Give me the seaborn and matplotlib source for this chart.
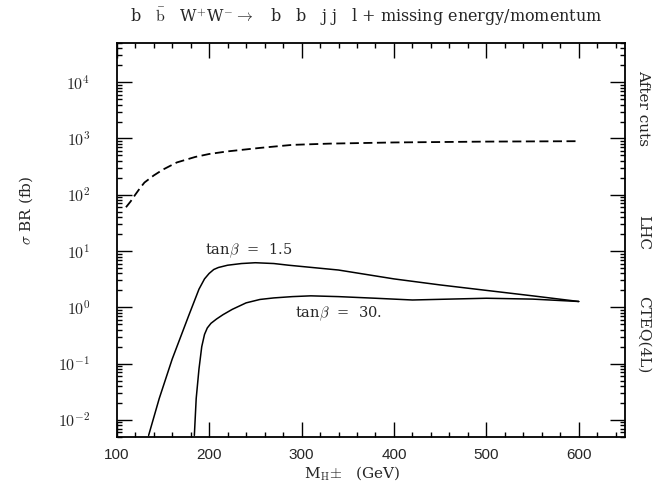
import numpy as np
import pandas as pd
import matplotlib
matplotlib.use("Agg")
import matplotlib.pyplot as plt
import seaborn as sns
from matplotlib.ticker import MultipleLocator, LogLocator, FixedFormatter, NullFormatter

# data
mass_cuts = [110, 115, 120, 125, 130, 140, 150, 165, 185, 200, 220, 255, 290, 330, 400, 500, 600]
sigma_cuts = [60, 76, 100, 130, 165, 220, 280, 375, 470, 530, 590, 680, 770, 810, 850, 880, 895]

mass_tb15 = [134.5, 146, 160, 178, 189, 195, 200, 205, 210, 220, 235, 250, 270, 286, 340, 400, 450, 500, 550, 600]
sigma_tb15 = [0.0053, 0.024, 0.12, 0.72, 2.1, 3.2, 4.0, 4.7, 5.1, 5.6, 6.0, 6.2, 6.0, 5.6, 4.6, 3.2, 2.5, 2.0, 1.6, 1.27]

mass_tb30 = [184, 186, 189, 192, 195, 198, 202, 208, 215, 225, 240, 255, 270, 290, 310, 340, 380, 420, 460, 500, 550, 600]
sigma_tb30 = [0.0053, 0.024, 0.08, 0.2, 0.33, 0.43, 0.52, 0.62, 0.74, 0.92, 1.2, 1.38, 1.47, 1.55, 1.6, 1.55, 1.45, 1.35, 1.4, 1.45, 1.4, 1.27]

ytick_vals = [1e-2, 1e-1, 1e0, 1e1, 1e2, 1e3, 1e4]
ytick_labels = [r"$10^{-2}$", r"$10^{-1}$", r"$10^{0}$", r"$10^{1}$", r"$10^{2}$", r"$10^{3}$", r"$10^{4}$"]
side_labels = ["After cuts", "LHC", "CTEQ(4L)"]

sns.set_style("ticks")
plt.rcParams['font.family'] = ['DejaVu Serif']
plt.rcParams['mathtext.fontset'] = 'cm'

fig = plt.figure(figsize=(6.67, 4.87), dpi=100)
ax = fig.add_axes([0.175, 0.103, 0.762, 0.809])

sns.lineplot(x=mass_cuts, y=sigma_cuts, ax=ax, color='black', linewidth=1.3,
             linestyle=(0, (5, 2.5)), sort=False)
sns.lineplot(x=mass_tb15, y=sigma_tb15, ax=ax, color='black', linewidth=1.1, sort=False)
sns.lineplot(x=mass_tb30, y=sigma_tb30, ax=ax, color='black', linewidth=1.1, sort=False)

ax.set_yscale('log')
ax.set_xlim(100, 650)
ax.set_ylim(5e-3, 5e4)

ax.xaxis.set_major_locator(MultipleLocator(100))
ax.xaxis.set_minor_locator(MultipleLocator(20))
ax.yaxis.set_minor_locator(LogLocator(base=10, subs=np.arange(2, 10)))
ax.set_yticks(ytick_vals)
ax.yaxis.set_major_formatter(FixedFormatter(ytick_labels))
ax.yaxis.set_minor_formatter(NullFormatter())

ax.tick_params(which='both', direction='in', top=True, right=True, width=1.0, color='black')
ax.tick_params(which='major', length=11)
ax.tick_params(which='minor', length=3.6)
ax.tick_params(axis='x', labelsize=11, pad=8)
ax.tick_params(axis='y', labelsize=11.5, pad=19)
for lab in ax.get_xticklabels():
    lab.set_family('Liberation Sans')
for sp in ax.spines.values():
    sp.set_linewidth(1.3)
    sp.set_color('black')

ax.set_xlabel(r"M$_{\rm H}$$\pm$   (GeV)", fontsize=11)
ax.xaxis.set_label_coords(0.463, -0.07)
ax.set_ylabel(r"$\sigma$ BR (fb)", fontsize=11)
ax.yaxis.set_label_coords(-0.16, 0.576)

ax.text(195, 10, r"tan$\beta$  =  1.5", fontsize=10.5, va='center', ha='left')
ax.text(293, 0.78, r"tan$\beta$  =  30.", fontsize=10.5, va='center', ha='left')

for lab, yy in zip(side_labels, [0.834, 0.518, 0.259]):
    ax.text(1.036, yy, lab, rotation=-90, transform=ax.transAxes,
            ha='center', va='center', fontsize=11)

fig.text(0.549, 0.965, r"b   $\bar{\rm b}$   W$^{+}$W$^{-}$$\rightarrow$   b   b   j j   l + missing energy/momentum",
         ha='center', va='center', fontsize=11.5)

fig.savefig("out.png", dpi=100)
